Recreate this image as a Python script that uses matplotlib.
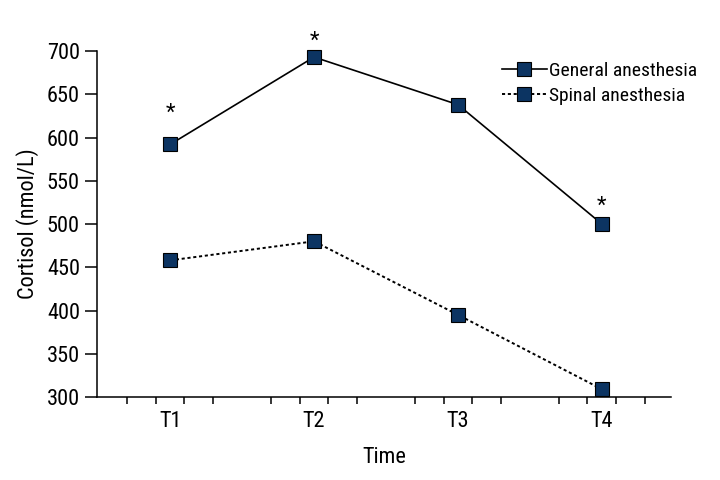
import matplotlib
matplotlib.use("Agg")
import matplotlib.pyplot as plt
import numpy as np

# values
times = ["T1", "T2", "T3", "T4"]
general = [592, 693, 638, 500]
spinal = [458, 480, 395, 309]
# asterisk marks (significant difference) on the general-anesthesia series
star_idx = [0, 1, 3]
star_offset_px = [39, 23, 25]

plt.rcParams["font.family"] = ["Roboto Condensed", "Open Sans Condensed",
                               "Liberation Sans Narrow", "DejaVu Sans"]
plt.rcParams["font.stretch"] = "condensed"

NAVY = "#0c3462"

fig = plt.figure(figsize=(7.2, 4.8), dpi=100)
ax = fig.add_axes([0.1343, 0.1729, 0.7976, 0.7208])

x = np.arange(1, len(times) + 1)

ax.plot(x, general, color="black", linewidth=1.2, linestyle="-",
        marker="s", markersize=10.5, markerfacecolor=NAVY,
        markeredgecolor="black", markeredgewidth=0.8,
        label="General anesthesia", clip_on=False, zorder=3)
ax.plot(x, spinal, color="black", linewidth=1.4, linestyle=(0, (1.6, 1.4)),
        marker="s", markersize=10.5, markerfacecolor=NAVY,
        markeredgecolor="black", markeredgewidth=0.8,
        label="Spinal anesthesia", clip_on=False, zorder=3)

fs = 16
for i, off in zip(star_idx, star_offset_px):
    # baseline sits below the glyph centre by ~0.58 em
    ax.annotate("*", (x[i], general[i]), xytext=(0, off * 0.72 - 0.58 * fs),
                textcoords="offset points", ha="center", va="baseline",
                fontsize=fs, annotation_clip=False)

ax.set_xlim(0.49, 4.48)
ax.set_ylim(300, 700)
ax.set_yticks(np.arange(300, 701, 50))
ax.set_xticks(x)
ax.set_xticklabels(times)
ax.set_xticks([c + d for c in x for d in (-0.3, -0.1, 0.1, 0.3)], minor=True)

ax.tick_params(axis="y", direction="out", length=8.6, width=1.1, pad=3.5, labelsize=fs)
ax.tick_params(axis="x", which="major", length=0, pad=10, labelsize=fs)
ax.tick_params(axis="x", which="minor", direction="out", length=4.8, width=1.1)

for s in ("top", "right"):
    ax.spines[s].set_visible(False)
for s in ("left", "bottom"):
    ax.spines[s].set_linewidth(1.1)

ax.set_ylabel("Cortisol (nmol/L)", fontsize=fs, va="center")
ax.yaxis.set_label_coords(-0.12, 0.5)
ax.set_xlabel("Time", fontsize=fs, va="center")
ax.xaxis.set_label_coords(0.5, -0.176)

ax.legend(loc="center left", bbox_to_anchor=(0.697, 0.826),
          bbox_transform=fig.transFigure, frameon=False, fontsize=14,
          handlelength=2.3, handletextpad=0.15, borderpad=0,
          borderaxespad=0, labelspacing=0.35, markerscale=0.9)

fig.savefig("out.png", dpi=100)
